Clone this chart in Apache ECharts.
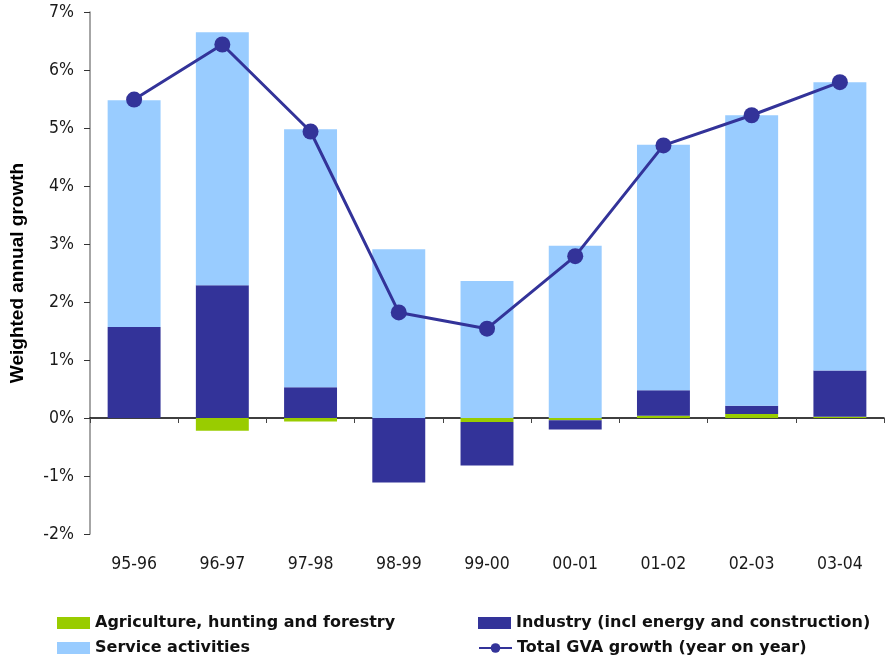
<!DOCTYPE html>
<html>
<head>
<meta charset="utf-8">
<script src="https://cdn.jsdelivr.net/npm/echarts@6/dist/echarts.min.js"></script>
<style>
  html, body { margin: 0; padding: 0; background: #ffffff; }
  #chart { width: 886px; height: 662px; }
</style>
</head>
<body>
<div id="chart"></div>
<script>
// Contribution to gross value added growth by sector (percentage points)
const periods = ['95-96', '96-97', '97-98', '98-99', '99-00', '00-01', '01-02', '02-03', '03-04'];
const agriculture = [0.00, -0.22, -0.06, 0.00, -0.07, -0.04, 0.04, 0.07, 0.02];
const industry = [1.57, 2.29, 0.53, -1.11, -0.75, -0.16, 0.44, 0.14, 0.80];
const services = [3.91, 4.36, 4.45, 2.91, 2.36, 2.97, 4.23, 5.01, 4.97];
const totalGrowth = [5.49, 6.44, 4.94, 1.82, 1.54, 2.79, 4.70, 5.22, 5.79];

const C_AGRI = '#99cc00';
const C_IND = '#333399';
const C_SERV = '#99ccff';

const axisFont = 'DejaVu Sans Condensed, Liberation Sans, sans-serif';
const legendFont = 'DejaVu Sans, sans-serif';

const legendText = {
  fontFamily: legendFont, fontSize: 16, fontWeight: 'bold', color: '#111111', lineHeight: 16
};

function legendAt(name, left, top, icon) {
  return {
    data: [{ name: name, icon: icon }], left: left, top: top, orient: 'horizontal',
    itemWidth: 33, itemHeight: 12, itemGap: 5, padding: 0,
    textStyle: legendText, selectedMode: false
  };
}

const chart = echarts.init(document.getElementById('chart'), null, { renderer: 'canvas' });
chart.setOption({
  animation: false,
  backgroundColor: '#ffffff',
  grid: { left: 87, right: 2, top: 12, bottom: 128, containLabel: false },
  legend: [
    legendAt('Agriculture, hunting and forestry', 57, 615, 'rect'),
    legendAt('Service activities', 57, 640, 'rect'),
    legendAt('Industry (incl energy and construction)', 478, 615, 'rect'),
    legendAt('Total GVA growth (year on year)', 478, 640, undefined)
  ],
  xAxis: [
    {
      type: 'category', data: periods, position: 'bottom',
      axisLine: { show: false, onZero: false },
      axisTick: { show: false },
      axisLabel: { margin: 21, fontFamily: axisFont, fontSize: 17.5, color: '#1a1a1a' }
    },
    {
      type: 'category', data: periods, position: 'bottom',
      axisLine: { show: true, onZero: true, lineStyle: { color: '#000000', width: 1.5 } },
      axisTick: { show: true, length: 5, lineStyle: { color: '#444444' } },
      axisLabel: { show: false }
    }
  ],
  yAxis: {
    type: 'value', min: -2, max: 7, interval: 1,
    name: 'Weighted annual growth', nameLocation: 'middle', nameGap: 63,
    nameTextStyle: { fontFamily: 'Liberation Sans, sans-serif', fontWeight: 'bold', fontSize: 19, color: '#000000' },
    axisLine: { show: true, lineStyle: { color: '#888888', width: 1.5 } },
    axisTick: { show: true, length: 6, lineStyle: { color: '#333333' } },
    splitLine: { show: false },
    axisLabel: {
      margin: 16, fontFamily: axisFont, fontSize: 17.5, color: '#1a1a1a',
      formatter: v => v + '%'
    }
  },
  series: [
    {
      name: 'Agriculture, hunting and forestry', type: 'bar', stack: 'gva',
      barWidth: '60%', data: agriculture, itemStyle: { color: C_AGRI }
    },
    {
      name: 'Industry (incl energy and construction)', type: 'bar', stack: 'gva',
      data: industry, itemStyle: { color: C_IND }
    },
    {
      name: 'Service activities', type: 'bar', stack: 'gva',
      data: services, itemStyle: { color: C_SERV }
    },
    {
      name: 'Total GVA growth (year on year)', type: 'line', data: totalGrowth,
      symbol: 'circle', symbolSize: 16, z: 5,
      lineStyle: { color: C_IND, width: 3 },
      itemStyle: { color: C_IND }
    }
  ]
});
</script>
</body>
</html>
